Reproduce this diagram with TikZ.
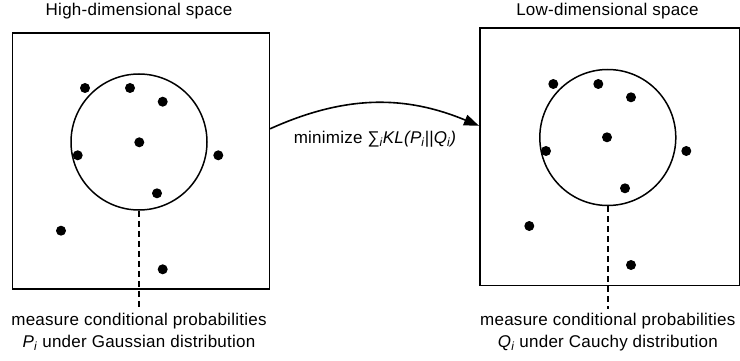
\documentclass[tikz,border=0pt]{standalone}
\usepackage{fontspec}
\setmainfont{Liberation Sans}[LetterSpace=1.5]
\usetikzlibrary{arrows.meta}
\begin{document}
\begin{tikzpicture}[x=1pt,y=-1pt,
  box/.style={draw, line width=1.6pt, inner sep=0pt, anchor=north west},
  ring/.style={draw, circle, line width=1.5pt, inner sep=0pt, minimum size=136pt},
  dotmark/.style={fill, circle, inner sep=0pt, minimum size=10pt},
  lbl/.style={font=\fontsize{17}{22}\selectfont, align=center, inner sep=0pt},
  link/.style={line width=1.5pt, dash pattern=on 6pt off 4pt},
  flow/.style={line width=1.6pt, -{Triangle[length=15pt,width=11pt]}}]
\useasboundingbox (0,0) rectangle (740,361);

% boxes
\node[box, minimum width=257pt, minimum height=256pt] (L) at (11.5,32) {};
\node[box, minimum width=259.5pt, minimum height=257pt] (R) at (479,27.5) {};

% titles
\node[lbl, anchor=base] (tL) at (139,15.5) {High-dimensional space};
\node[lbl, anchor=base] (tR) at (607.5,15.5) {Low-dimensional space};

% circles
\node[ring] (cL) at (139,142) {};
\node[ring] (cR) at (607.8,137.5) {};

% dots left
\foreach \n/\x/\y in {1/85/88, 2/130/88, 3/162.7/101.7, 4/139.3/142.3, 5/77.7/155.3, 6/218.3/155.3, 7/157/193.3, 8/61/230.7, 9/162.7/269.3}
  \node[dotmark] (l\n) at (\x,\y) {};
% dots right
\foreach \n/\x/\y in {1/553.3/84, 2/598.3/84, 3/631/97.3, 4/607/137.3, 5/546/151, 6/686.3/151, 7/625/188.3, 8/529.3/226, 9/631/265}
  \node[dotmark] (r\n) at (\x,\y) {};

% bottom labels
\node[lbl, anchor=north] (bL) at (139,313) {measure conditional probabilities\\\textit{P}\textsubscript{\itshape i} under Gaussian distribution};
\node[lbl, anchor=north] (bR) at (607.8,313) {measure conditional probabilities\\\textit{Q}\textsubscript{\itshape i} under Cauchy distribution};

\draw[link] (cL.south) -- ([yshift=4pt]bL.north);
\draw[link] (cR.south) -- ([yshift=4pt]bR.north);

% arrow
\draw[flow] ([yshift=32pt]L.east) .. controls (345,95) and (405,95) .. ([yshift=31pt]R.west);
\node[lbl, anchor=base] (m) at (375,143.5) {minimize ∑\textsubscript{\itshape i}\textit{KL(P\textsubscript{i}||Q\textsubscript{i})}};
\end{tikzpicture}
\end{document}
